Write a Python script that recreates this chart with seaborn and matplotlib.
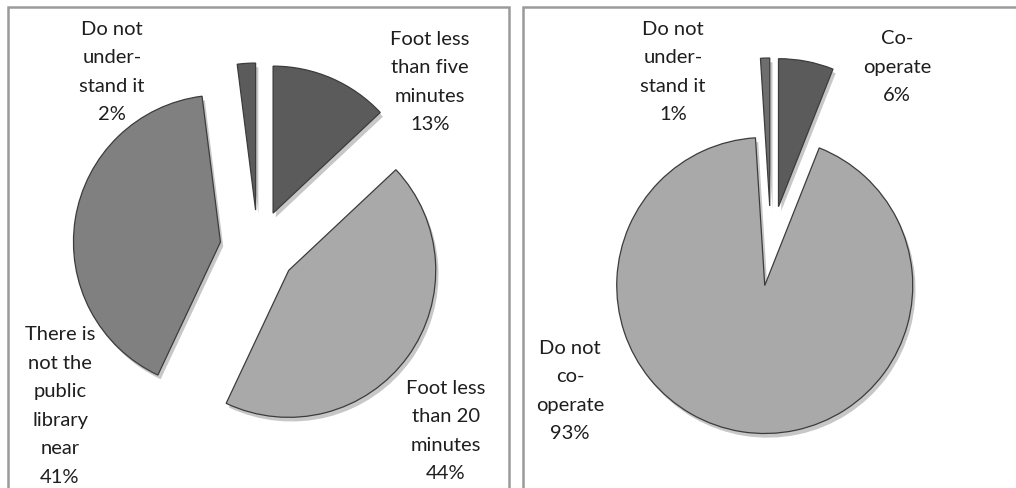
import matplotlib
matplotlib.use("Agg")
import matplotlib.pyplot as plt
import matplotlib.patheffects as pe
from matplotlib.patches import Rectangle
import seaborn as sns

# Survey results: access to a public library, and willingness to co-operate
access_labels = ["Foot less\nthan five\nminutes", "Foot less\nthan 20\nminutes",
                 "There is\nnot the\npublic\nlibrary\nnear", "Do not\nunder-\nstand it"]
access_values = [13, 44, 41, 2]

coop_labels = ["Co-\noperate", "Do not\nco-\noperate", "Do not\nunder-\nstand it"]
coop_values = [6, 93, 1]

sns.set_theme(style="white")
plt.rcParams["font.family"] = ["Lato", "DejaVu Sans"]

greys = {"dark": "#5b5b5b", "mid": "#808080", "light": "#a9a9a9"}
access_colors = [greys["dark"], greys["light"], greys["mid"], greys["dark"]]
coop_colors = [greys["dark"], greys["light"], "#6e6e6e"]

W, H = 1016, 488
fig = plt.figure(figsize=(W / 100, H / 100), dpi=100)
ax = fig.add_axes([0, 0, 1, 1])

bevel = [pe.SimplePatchShadow(offset=(2, -3), shadow_rgbFace="#000000", alpha=0.22),
         pe.Normal()]


def draw_pie(values, colors, center, radius, offset):
    # the axes work in pixel units, so the explode offset is given in pixels
    wedges, _ = ax.pie(values, colors=colors, startangle=90, counterclock=False,
                       center=center, radius=radius, explode=[offset] * len(values),
                       frame=True,
                       wedgeprops=dict(edgecolor="#3c3c3c", linewidth=0.9))
    for w in wedges:
        w.set_path_effects(bevel)
    return wedges


draw_pie(access_values, access_colors, (258, H - 248), 147, 38)
draw_pie(coop_values, coop_colors, (771, H - 246), 148, 40)

text_kw = dict(ha="center", va="center", fontsize=14.5, color="#1e1e1e", linespacing=1.82)

access_pos = [(430, 82), (446, 431), (60, 406), (112, 72)]
for lab, val, (x, y) in zip(access_labels, access_values, access_pos):
    ax.text(x, H - y, f"{lab}\n{val}%", **text_kw)

coop_pos = [(897, 67), (570, 391), (673, 72)]
for lab, val, (x, y) in zip(coop_labels, coop_values, coop_pos):
    ax.text(x, H - y, f"{lab}\n{val}%", **text_kw)

# Panel frames around each chart
for x0, x1 in [(8, 509), (523, 1030)]:
    ax.add_patch(Rectangle((x0, -20), x1 - x0, H - 7 + 20, fill=False,
                           edgecolor="#9a9a9a", linewidth=1.8, clip_on=False))

ax.set_xlim(0, W)
ax.set_ylim(0, H)
ax.set_aspect("equal")
ax.axis("off")

fig.savefig("out.png", dpi=100)
